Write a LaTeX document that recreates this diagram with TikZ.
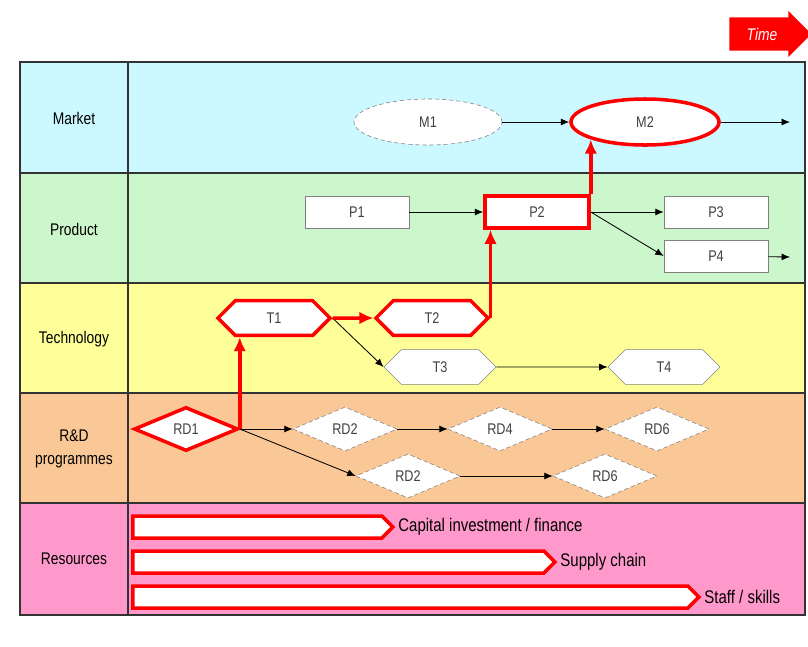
\documentclass[tikz,border=0pt]{standalone}
\usepackage{fontspec}
\setmainfont{Liberation Sans}[FakeStretch=0.82]
\usetikzlibrary{shapes.geometric,shapes.symbols,shapes.arrows,arrows.meta}

\definecolor{mktblue}{RGB}{204,248,255}
\definecolor{prodgreen}{RGB}{204,247,204}
\definecolor{techyellow}{RGB}{255,255,153}
\definecolor{rdorange}{RGB}{250,200,150}
\definecolor{respink}{RGB}{255,153,204}

\begin{document}
\begin{tikzpicture}[x=0.025cm,y=-0.025cm,
    every node/.style={font=\fontsize{11}{13}\selectfont},
    rowlabel/.style={align=center,font=\fontsize{12}{16}\selectfont},
    item/.style={draw=gray,fill=white,text=darkgray,inner sep=0pt},
    mkt/.style={item,ellipse,densely dashed,minimum width=3.7cm,minimum height=1.15cm},
    prod/.style={item,rectangle,minimum width=2.6cm,minimum height=0.8cm},
    tech/.style={item,signal,signal to=west and east,minimum width=2.8cm,minimum height=0.87cm},
    rd/.style={item,diamond,densely dashed,aspect=2.4,minimum width=2.6cm,minimum height=1.1cm},
    hl/.style={draw=red,solid,line width=2.5pt},
    link/.style={draw=black,line width=0.6pt,-{Latex[length=6pt,width=5pt]}},
    redlink/.style={draw=red,line width=2.5pt,-{Latex[length=10pt,width=9pt]}},
    resbar/.style={signal,signal to=east,draw=red,line width=2.5pt,fill=white,
        minimum height=0.55cm,inner sep=0pt,anchor=west},
    reslabel/.style={anchor=west,inner sep=2pt,font=\fontsize{13}{15}\selectfont}]

\useasboundingbox (0,0) rectangle (808,646);

% swim lanes
\foreach \i/\ytop/\col/\lab in {1/62/mktblue/Market, 2/173/prodgreen/Product,
    3/283/techyellow/Technology, 4/393/rdorange/{R\&D\\programmes},
    5/503/respink/Resources} {
    \fill[\col] (20,\ytop) rectangle (805,\ytop+111);
    \node[rowlabel] (row\i) at (74,\ytop+56) {\lab};
}
\draw[line width=1.2pt,black!80] (20,62) rectangle (805,615);
\draw[line width=1.2pt,black!80] (128,62) -- (128,615);
\foreach \y in {173,283,393,503}
    \draw[line width=1.2pt,black!80] (20,\y) -- (805,\y);

% time arrow
\node[single arrow,fill=red,text=white,font=\fontsize{12}{14}\selectfont\itshape,
    minimum height=2.05cm,minimum width=1.15cm,single arrow head extend=0.14cm,
    inner xsep=1pt,inner ysep=0.2cm] (time) at (762,34) {Time};

% market
\node[mkt] (M1) at (428,122) {M1};
\node[mkt,hl] (M2) at (645,122) {M2};
\coordinate (Mout) at (790,122);

% product
\node[prod] (P1) at (357,212) {P1};
\node[prod,hl] (P2) at (537,212) {P2};
\node[prod] (P3) at (716,212) {P3};
\node[prod] (P4) at (716,256) {P4};
\coordinate (Pout) at (790,257);

% technology
\node[tech,hl] (T1) at (274,318) {T1};
\node[tech,hl] (T2) at (432,318) {T2};
\node[tech] (T3) at (440,367) {T3};
\node[tech] (T4) at (664,367) {T4};

% R&D
\node[rd,hl] (RD1) at (186,429) {RD1};
\node[rd] (RD2a) at (345,429) {RD2};
\node[rd] (RD4) at (500,429) {RD4};
\node[rd] (RD6a) at (657,429) {RD6};
\node[rd] (RD2b) at (408,476) {RD2};
\node[rd] (RD6b) at (605,476) {RD6};

% resources
\node[resbar,minimum width=6.5cm] (bar1) at (131,527) {};
\node[resbar,minimum width=10.55cm] (bar2) at (131,562) {};
\node[resbar,minimum width=14.15cm] (bar3) at (131,597) {};
\node[reslabel] (capital) at (bar1.east) {Capital investment / finance};
\node[reslabel] (supply) at (bar2.east) {Supply chain};
\node[reslabel] (staff) at (bar3.east) {Staff / skills};

% thin links
\draw[link] (M1) -- (M2);
\draw[link] (M2) -- (Mout);
\draw[link] (P1) -- (P2);
\draw[link] (P2) -- (P3);
\draw[link] (P2.east) -- (P4.west);
\draw[link] (P4) -- (Pout);
\draw[link] (T1.east) -- (T3.west);
\draw[link] (T3) -- (T4);
\draw[link] (RD1) -- (RD2a);
\draw[link] (RD2a) -- (RD4);
\draw[link] (RD4) -- (RD6a);
\draw[link] (RD1.east) -- (RD2b.west);
\draw[link] (RD2b) -- (RD6b);

% critical path
\draw[redlink] (RD1.east) -- (RD1.east |- T1.south);
\draw[redlink] (T1) -- (T2);
\draw[redlink] (T2.east) -- (T2.east |- P2.south);
\draw[redlink] (P2.north east) -- (P2.north east |- M2.south west);

\end{tikzpicture}
\end{document}
